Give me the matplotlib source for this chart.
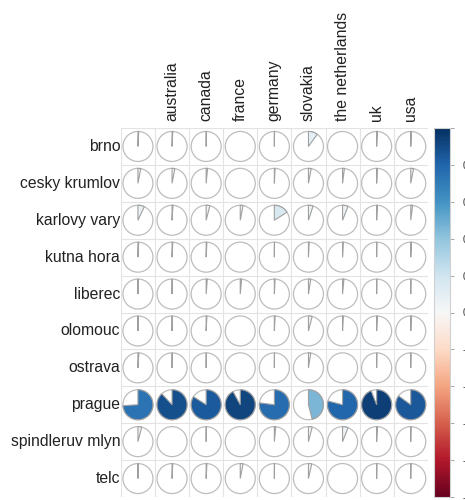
import numpy as np
import matplotlib
matplotlib.use("Agg")
import matplotlib.pyplot as plt
from matplotlib.patches import Circle, Wedge
from matplotlib.colors import Normalize
from matplotlib.cm import ScalarMappable

plt.rcParams['font.family'] = ['Liberation Sans', 'DejaVu Sans']

cities = ['brno', 'cesky krumlov', 'karlovy vary', 'kutna hora', 'liberec',
          'olomouc', 'ostrava', 'prague', 'spindleruv mlyn', 'telc']
countries = ['', 'australia', 'canada', 'france', 'germany', 'slovakia',
             'the netherlands', 'uk', 'usa']

brno = [0.008, 0.008, 0.002, 0, 0.002, 0.10, 0, 0.008, 0.008]
cesky_krumlov = [0.03, 0.03, 0.015, 0, 0.008, 0.03, 0.02, 0.008, 0.03]
karlovy_vary = [0.07, 0.01, 0.04, 0.03, 0.16, 0.05, 0.06, 0.008, 0.02]
kutna_hora = [0.008, 0.008, 0.008, 0, 0.002, 0.008, 0.008, 0.002, 0.008]
liberec = [0.002, 0.002, 0.012, 0.015, 0.008, 0.025, 0.015, 0.002, 0.002]
olomouc = [0.002, 0.002, 0.008, 0, 0.008, 0.04, 0.008, 0.008, 0.008]
ostrava = [0.01, 0.002, 0.002, 0, 0.002, 0.025, 0, 0.002, 0.002]
prague = [0.74, 0.88, 0.84, 0.92, 0.77, 0.46, 0.79, 0.94, 0.85]
spindleruv_mlyn = [0.04, 0, 0.002, 0, 0.015, 0.04, 0.06, 0.008, 0.002]
telc = [0.002, 0.008, 0.008, 0.03, 0.002, 0.035, 0, 0.002, 0.002]

corr = np.array([brno, cesky_krumlov, karlovy_vary, kutna_hora, liberec,
                 olomouc, ostrava, prague, spindleruv_mlyn, telc])

W, H = 4.65, 5.0
fig = plt.figure(figsize=(W, H), dpi=100)
left, right, bottom, top = 0.260, 0.920, 0.006, 0.744
ax = fig.add_axes([left, bottom, right - left, top - bottom])

nrow, ncol = corr.shape
# row spacing in x-units so circles stay round
cell_w = (right - left) * W / ncol
cell_h = (top - bottom) * H / nrow
rh = cell_h / cell_w

cmap = plt.get_cmap('RdBu')
norm = Normalize(-1, 1)
radius = 0.44
edge = '#bdbdbd'

for i in range(nrow):
    yc = (nrow - 1 - i) * rh
    for j in range(ncol):
        v = corr[i, j]
        ax.add_patch(Circle((j, yc), radius, facecolor='white',
                            edgecolor=edge, lw=0.9, zorder=2))
        if v != 0:
            ax.add_patch(Wedge((j, yc), radius, 90 - 360 * v, 90,
                               facecolor=cmap(norm(v)), edgecolor='#a0a0a0',
                               lw=0.8, zorder=3))

# cell grid
for j in range(ncol + 1):
    ax.axvline(j - 0.5, color='#e3e3e3', lw=0.8, zorder=1)
for i in range(nrow + 1):
    ax.axhline((i - 0.5) * rh, color='#e3e3e3', lw=0.8, zorder=1)

ax.set_xlim(-0.5, ncol - 0.5)
ax.set_ylim(-0.5 * rh, (nrow - 0.5) * rh)
ax.axis('off')

for i, name in enumerate(cities):
    ax.text(-0.52, (nrow - 1 - i) * rh, name, ha='right', va='center',
            fontsize=11.3, color='#222222')
for j, name in enumerate(countries):
    ax.text(j, (nrow - 0.5) * rh + 0.2, name, ha='center', va='bottom',
            rotation=90, fontsize=11.3, color='#222222')

# colour legend
cax = fig.add_axes([0.933, bottom, 0.035, top - bottom])
cb = fig.colorbar(ScalarMappable(norm=norm, cmap=cmap), cax=cax)
cb.set_ticks(np.round(np.arange(-1, 1.01, 0.2), 1))
cb.set_ticklabels(['-1', '-0.8', '-0.6', '-0.4', '-0.2', '0',
                   '0.2', '0.4', '0.6', '0.8', ''])
cb.outline.set_edgecolor('#d0d0d0')
cb.outline.set_linewidth(0.8)
cax.tick_params(length=3, width=0.6, color='#999999', labelsize=7,
                labelcolor='#333333', pad=6)

fig.savefig('out.png', dpi=100)
